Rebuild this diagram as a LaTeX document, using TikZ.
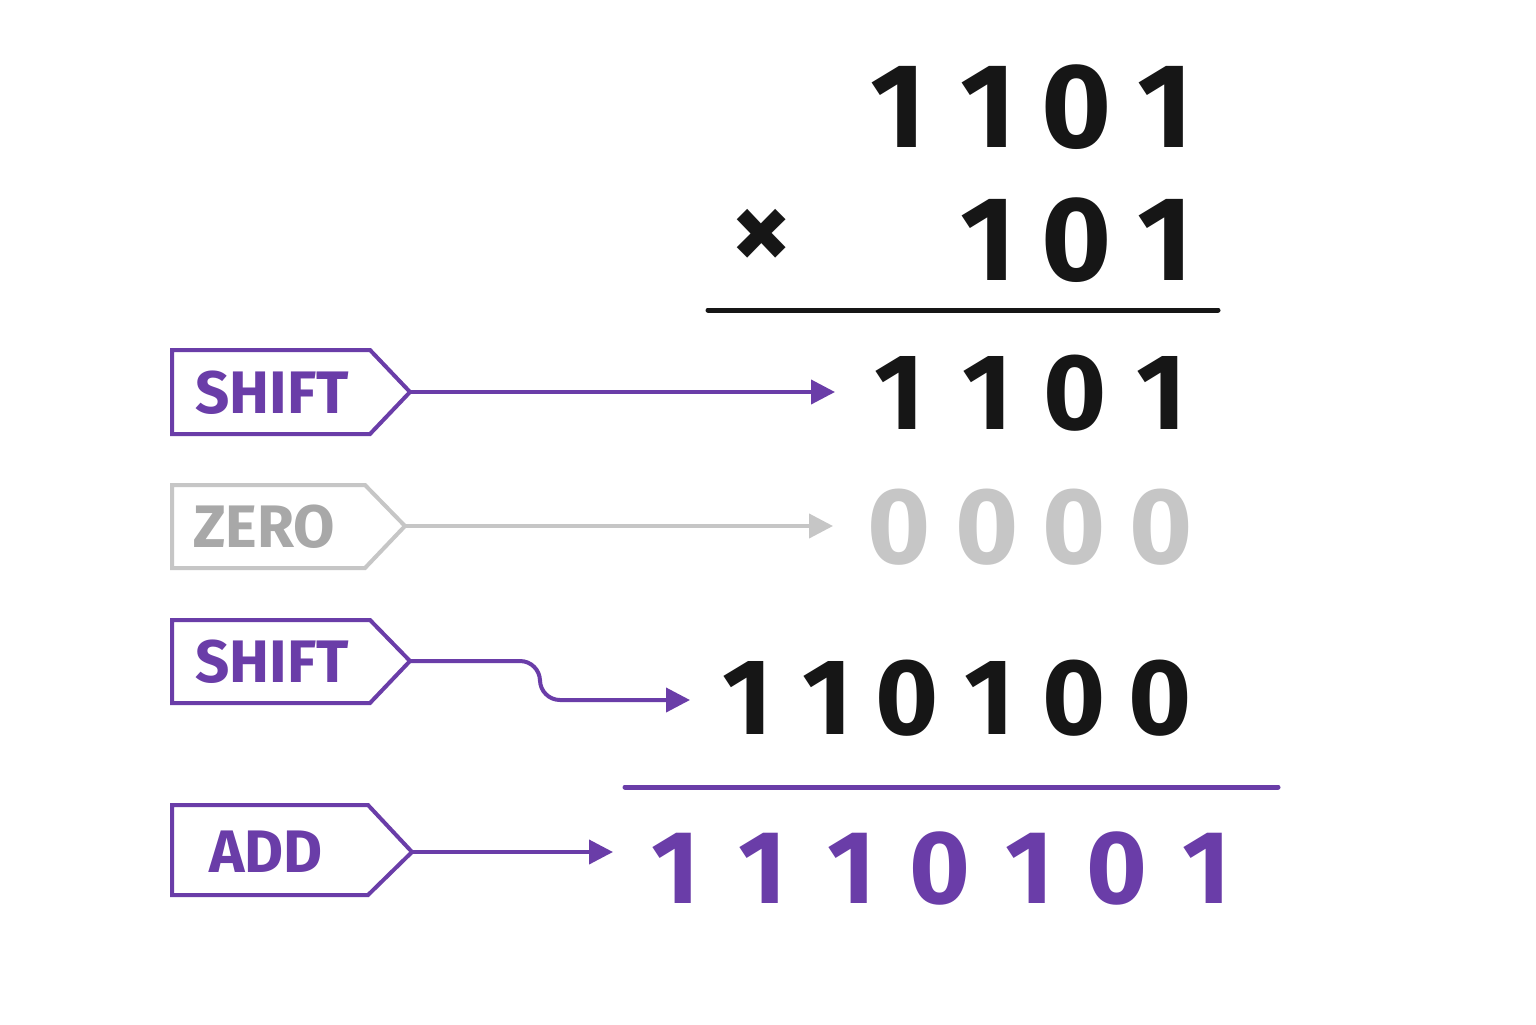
\documentclass[tikz,border=0pt]{standalone}
\usepackage{fontspec}
\setmainfont{Fira Sans}
\usetikzlibrary{arrows.meta}
\definecolor{pur}{HTML}{6A3DA8}
\definecolor{gry}{HTML}{C6C6C6}
\definecolor{blk}{HTML}{161616}
\begin{document}
\begin{tikzpicture}[x=0.5pt,y=-0.5pt,
 dig/.style={font=\fontsize{#1}{#1}\selectfont\bfseries,inner sep=0pt,anchor=center},
 tag/.style={line width=2pt,line join=miter},
 lab/.style={font=\fontsize{30}{30}\selectfont\bfseries,inner sep=0pt},
 arr/.style={line width=2pt,-{Triangle[length=12pt,width=12pt]}}]
\useasboundingbox (0,0) rectangle (1536,1024);
\fill[white] (0,0) rectangle (1536,1024);
% row 1
\foreach \x/\d [count=\i] in {898/1,988/1,1077/0,1165/1}
  \node[dig=60,text=blk] (a\i) at (\x,107) {\d};
\node[dig=60,text=blk] (times) at (762,240) {×};
\foreach \x/\d [count=\i] in {988/1,1077/0,1165/1}
  \node[dig=60,text=blk] (b\i) at (\x,240) {\d};
\draw[blk,line width=2.5pt,line cap=round] (708,310) coordinate (l1a) -- (1218,310) coordinate (l1b);
% row 3
\foreach \x/\d [count=\i] in {900/1,988/1,1075/0,1162/1}
  \node[dig=54,text=blk] (c\i) at (\x,393) {\d};
\foreach \x [count=\i] in {899,987,1074,1161}
  \node[dig=54,text=gry] (z\i) at (\x,527) {0};
\foreach \x/\d [count=\i] in {748/1,828/1,907/0,990/1,1074/0,1160/0}
  \node[dig=54,text=blk] (s\i) at (\x,698) {\d};
\draw[pur,line width=2.5pt,line cap=round] (625,787) coordinate (l2a) -- (1278,787) coordinate (l2b);
\foreach \x/\d [count=\i] in {676/1,763/1,852/1,940/0,1030/1,1117/0,1207/1}
  \node[dig=52,text=pur] (r\i) at (\x,868) {\d};
% tags
\draw[tag,pur] (172,350) -- (370,350) -- (410,392) coordinate (t1) -- (370,434) -- (172,434) -- cycle;
\node[lab,text=pur] (L1) at (272,393) {SHIFT};
\draw[tag,gry] (172,485) -- (365,485) -- (405,526) coordinate (t2) -- (365,568) -- (172,568) -- cycle;
\node[lab,text=gry!85!black] (L2) at (264,527) {ZERO};
\draw[tag,pur] (172,620) -- (370,620) -- (410,661) coordinate (t3) -- (370,703) -- (172,703) -- cycle;
\node[lab,text=pur] (L3) at (272,662) {SHIFT};
\draw[tag,pur] (172,805) -- (368,805) -- (412,852) coordinate (t4) -- (368,895) -- (172,895) -- cycle;
\node[lab,text=pur] (L4) at (266,852) {ADD};
% arrows
\coordinate (e1) at (835,392);
\coordinate (e2) at (833,526);
\coordinate (e3) at (690,700);
\coordinate (e4) at (613,852);
\draw[arr,pur] (t1) -- (e1);
\draw[arr,gry] (t2) -- (e2);
\draw[arr,pur,rounded corners=10pt] (t3) -- (540,661) -- (540,700) -- (e3);
\draw[arr,pur] (t4) -- (e4);
\end{tikzpicture}
\end{document}
